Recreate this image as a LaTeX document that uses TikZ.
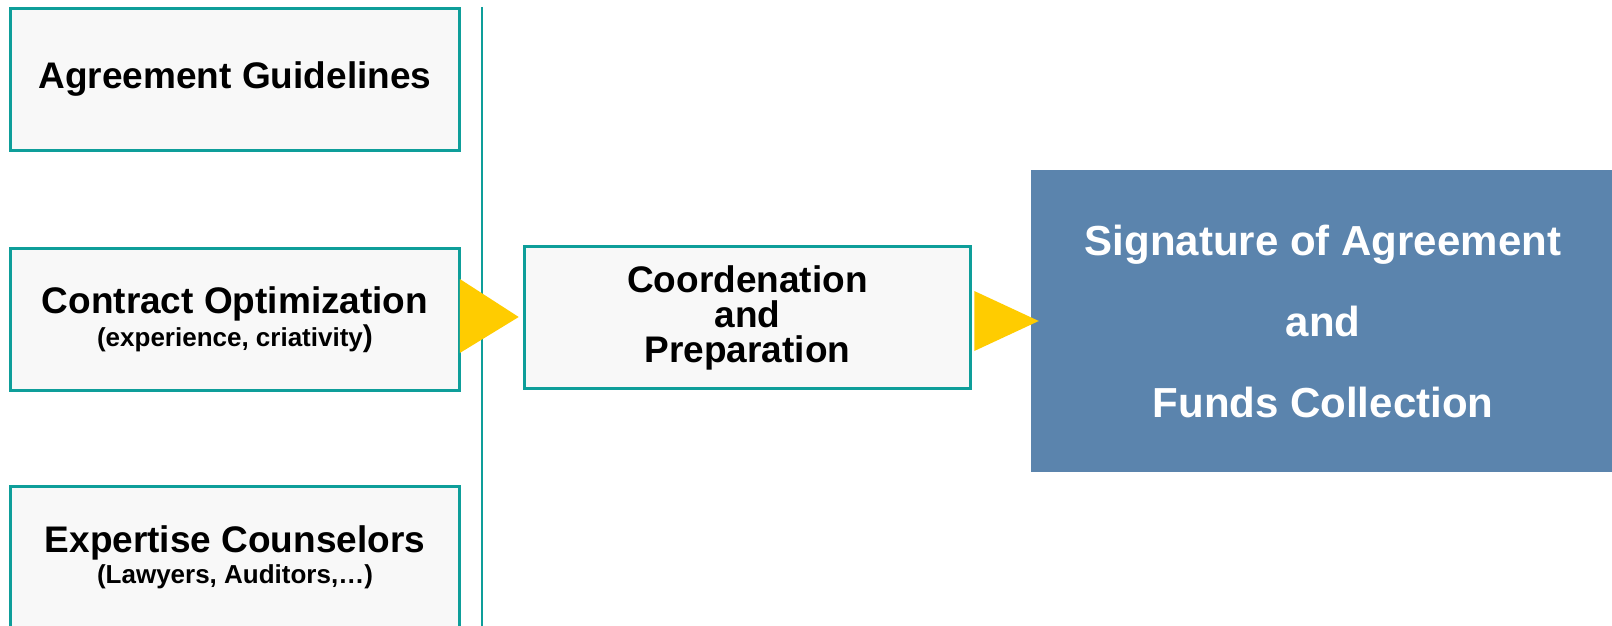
\documentclass[tikz,border=0pt]{standalone}
\usepackage{fontspec}
\setmainfont{Liberation Sans}
\usetikzlibrary{calc}
\definecolor{tealc}{RGB}{14,158,154}
\definecolor{boxfill}{RGB}{248,248,248}
\definecolor{sigblue}{RGB}{91,132,173}
\definecolor{arrowy}{RGB}{255,204,0}
\begin{document}
\begin{tikzpicture}[x=1pt,y=1pt,
  tealbox/.style={draw=tealc, line width=3.6pt, fill=boxfill, minimum width=449pt, minimum height=142pt, inner sep=0pt, align=center, font=\bfseries\fontsize{37}{35}\selectfont},
  sigbox/.style={fill=sigblue, draw=none, minimum width=584pt, minimum height=302pt, inner sep=0pt, align=center, text=white, font=\bfseries\fontsize{42}{81}\selectfont},
  tri/.style={fill=arrowy, draw=none}]
\useasboundingbox (0,0) rectangle (1612,-626);
\fill[white] (0,0) rectangle (1612,-626);
\node[tealbox] (b1) at (235,-79.5) {Agreement Guidelines};
\node[tealbox] (b2) at (235,-319.5) {Contract Optimization\\[-2pt]{\fontsize{26}{26}\selectfont (experience, criativity}{\fontsize{30}{26}\selectfont)}};
\node[tealbox] (b3) at (235,-557.5) {Expertise Counselors\\[-4pt]{\fontsize{26}{26}\selectfont (Lawyers, Auditors,\dots)}};
\coordinate (vtop) at (482,-7);
\coordinate (vbot) at (482,-626);
\draw[tealc, line width=2pt] (vtop) -- (vbot);
\node[tealbox, minimum width=446pt] (c) at (747.5,-317.5) {Coordenation\\and\\Preparation};
\node[sigbox] (s) at (1323,-321) {Signature of Agreement\\and\\Funds Collection};
\fill[tri] ($(b2.east)+(-1.5,40.5)$) -- ($(b2.east)+(-1.5,-33.5)$) -- ($(c.west)+(-4,0.5)$) -- cycle;
\fill[tri] ($(c.east)+(2,26.5)$) -- ($(c.east)+(2,-33.5)$) -- ($(s.west)+(8,0)$) -- cycle;
\end{tikzpicture}
\end{document}
